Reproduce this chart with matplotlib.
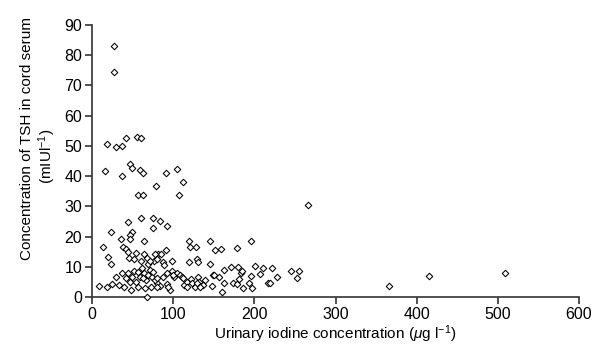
import matplotlib
matplotlib.use("Agg")
import matplotlib.pyplot as plt

plt.rcParams['font.family'] = ['Liberation Sans', 'DejaVu Sans']
plt.rcParams['mathtext.fontset'] = 'custom'
plt.rcParams['mathtext.rm'] = 'Liberation Sans'
plt.rcParams['mathtext.it'] = 'Liberation Sans:italic'

# urinary iodine (ug/l) vs cord serum TSH (mIU/l)
iodine = [
    27, 27,
    19, 30, 36.6, 41.5, 55.8, 60.8,
    16.4, 37, 46.8, 49.3, 59.5, 62.4, 90.8, 105, 111.7, 78.8, 56.3, 62.8, 107.2,
    44, 60.4, 74.8, 84.2, 92.8, 74.8, 23, 48.9, 46.4, 35.7, 46.8, 64.4,
    13.2, 38.6, 41.5, 44, 54.2, 64.4, 81.3, 84.6, 91.2, 19.3, 23.4, 45.2, 51.4,
    60, 69, 76, 87.8, 98.6,
    119.1, 120.7, 128.5, 145.7, 151.9, 158.6, 178.3, 196.3, 119.1, 129.7, 145.7,
    77.6, 80.5, 88.7, 131, 67.3, 71,
    8.2, 18.1, 24.2, 29.1, 33.3, 36.6, 39, 41.5, 44, 46.4, 48.9, 51.7, 54.2,
    56.7, 59.1, 61.6, 64.1, 66.5, 69, 71.5, 73.9, 67.8, 79.7, 83.8, 87.5, 92.4,
    96.1, 98.6, 101.4, 105, 108.4, 110.9, 113.3, 117.4, 122, 126.5, 130.2,
    132.2, 138.8,
    48.4, 64.9, 73, 56.7, 75.2, 77.2, 62.8, 79.7, 92, 100.2, 112.5, 122.8, 129,
    137.1, 79.7, 94, 116.7, 133.1, 149.5,
    147.5, 150.3, 156.8, 159.8, 162.6, 162.6, 171.2, 173.3, 178.3, 180.2, 181.5,
    183.2, 185.2, 186, 193, 195.5, 196.7, 200.8, 207, 211, 217.2, 219.3, 221.4,
    227.5,
    244.8, 252.2, 255.4, 266.1, 365.9, 415.2, 508.8,
]
tsh = [
    83, 74.5,
    50.5, 49.5, 50, 52.6, 53, 52.7,
    41.8, 40.1, 44, 42.7, 42, 41.1, 41, 42.5, 38, 36.8, 33.9, 33.9, 33.9,
    24.9, 26.2, 26.2, 25.2, 23.6, 22.9, 21.4, 21.4, 20.6, 19.1, 19.1, 18.5,
    16.4, 16.6, 15.8, 15, 14.7, 14.1, 14.3, 14.1, 15.5, 13.3, 10.9, 12.8, 12.5,
    11.9, 10.8, 11.9, 11.5, 12,
    18.5, 16.4, 16.6, 18.5, 15.5, 15.8, 16.3, 18.6, 11.6, 12.5, 10.9,
    14.1, 12.5, 10.6, 11.5, 12.8, 11.9,
    3.6, 3.4, 4.2, 6.7, 4.1, 8, 3.2, 6.2, 7.8, 5, 6.5, 8.7, 5.1,
    3.2, 6.7, 9.5, 7.8, 5.6, 7.3, 8.9, 6.5, 0, 4.7, 3.6, 6.7, 4.3,
    2.3, 8.7, 6.5, 8, 7.3, 6.7, 4, 5.1, 6, 3.4, 6.7,
    5.1, 5.6,
    2.3, 2.9, 3.4, 8.4, 8.4, 5.6, 6.2, 6.2, 7.8, 7.3, 6.2, 4.5, 4.5,
    4, 3.4, 3.4, 3.4, 3.4, 7.3,
    3.6, 7.3, 6.7, 1.8, 8.9, 4.7, 9.8, 4.7, 4.3, 9.8, 5.9,
    8, 8.7, 2.9, 4.7, 6.9, 2.9, 10.3, 7.6, 9.5, 4.7, 4.7, 9.5,
    6.5,
    8.5, 6.2, 8.5, 30.3, 3.7, 6.8, 7.9,
]

fig = plt.figure(figsize=(5.96, 3.47), dpi=100)
ax = fig.add_axes([0.1544, 0.1441, 0.8171, 0.7839])

ax.scatter(iodine, tsh, marker='D', s=11, facecolors='white',
           edgecolors='black', linewidths=0.75, clip_on=False, zorder=3)

ax.set_xlim(0, 600)
ax.set_ylim(0, 90)
ax.set_xticks(range(0, 601, 100))
ax.set_yticks(range(0, 91, 10))

for side in ['top', 'right']:
    ax.spines[side].set_visible(False)
for side in ['left', 'bottom']:
    ax.spines[side].set_linewidth(1.2)
    ax.spines[side].set_color('#333333')

ax.tick_params(axis='both', direction='out', length=5, width=1.2,
               color='#333333', labelsize=11.5, pad=2)

ax.set_xlabel(r'Urinary iodine concentration ($\mu$g l$^{-1}$)', fontsize=11,
              labelpad=1)

# two-line y label, the lines sit a little offset from each other
fig.text(0.046, 0.602, 'Concentration of TSH in cord serum', rotation=90,
         ha='center', va='center', fontsize=11)
fig.text(0.080, 0.548, r'(mIUl$^{-1}$)', rotation=90,
         ha='center', va='center', fontsize=11)

plt.savefig('out.png', dpi=100)
